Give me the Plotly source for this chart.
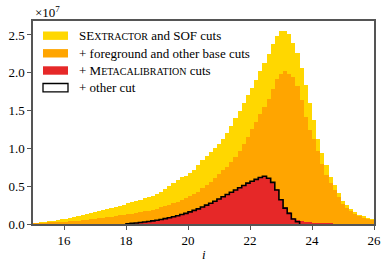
import numpy as np
import plotly.graph_objects as go

# histogram binning: bins of 2/15 mag, first edge 14.9333 (18.0 is a bin edge)
n_bins = 84
bin_w = 2.0 / 15.0
first_edge = 18.0 - 23 * bin_w

# counts per bin in units of 1e7
sof = [0.004, 0.011, 0.019, 0.027, 0.036, 0.045, 0.054, 0.063, 0.072, 0.084,
       0.097, 0.110, 0.123, 0.136, 0.149, 0.162, 0.176, 0.189, 0.202, 0.215,
       0.229, 0.243, 0.257, 0.272, 0.287, 0.303, 0.320, 0.338, 0.357, 0.377,
       0.398, 0.420, 0.460, 0.500, 0.540, 0.580, 0.620, 0.640, 0.670, 0.720,
       0.780, 0.840, 0.900, 0.950, 1.000, 1.060, 1.130, 1.210, 1.300, 1.400,
       1.500, 1.600, 1.700, 1.800, 1.910, 2.020, 2.130, 2.250, 2.380, 2.490,
       2.557, 2.557, 2.510, 2.400, 2.260, 2.060, 1.840, 1.600, 1.376, 1.130,
       0.935, 0.780, 0.626, 0.516, 0.406, 0.310, 0.250, 0.200, 0.160, 0.125,
       0.100, 0.078, 0.062, 0.050]

base = [0.002, 0.005, 0.008, 0.011, 0.014, 0.018, 0.022, 0.026, 0.031, 0.036,
        0.041, 0.046, 0.052, 0.058, 0.064, 0.071, 0.078, 0.085, 0.092, 0.099,
        0.106, 0.113, 0.120, 0.128, 0.136, 0.145, 0.155, 0.166, 0.178, 0.191,
        0.205, 0.220, 0.236, 0.253, 0.272, 0.293, 0.316, 0.340, 0.366, 0.394,
        0.424, 0.470, 0.510, 0.560, 0.610, 0.660, 0.710, 0.760, 0.820, 0.890,
        0.970, 1.060, 1.150, 1.250, 1.350, 1.450, 1.550, 1.660, 1.790, 1.920,
        1.990, 2.030, 1.990, 1.950, 1.820, 1.640, 1.420, 1.240, 1.130, 0.960,
        0.800, 0.650, 0.540, 0.450, 0.360, 0.260, 0.210, 0.170, 0.135, 0.110,
        0.085, 0.068, 0.054, 0.044]

mcal = [0.0] * 23 + [
        0.004, 0.008, 0.013, 0.019, 0.026, 0.033, 0.041,
        0.050, 0.060, 0.071, 0.083, 0.095, 0.110, 0.125, 0.140, 0.160, 0.180,
        0.200, 0.225, 0.250, 0.275, 0.300, 0.330, 0.360, 0.390, 0.420, 0.450,
        0.480, 0.510, 0.540, 0.565, 0.590, 0.615, 0.632, 0.605, 0.550, 0.460,
        0.335, 0.225, 0.155, 0.085, 0.050, 0.035, 0.025, 0.017, 0.011, 0.007,
        0.004, 0.002, 0.001, 0.0, 0.0, 0.0, 0.0, 0.0, 0.0, 0.0,
        0.0, 0.0, 0.0, 0.0]

other = [0.0] * 23 + [
        0.004, 0.008, 0.013, 0.019, 0.026, 0.033, 0.041,
        0.050, 0.060, 0.071, 0.083, 0.095, 0.110, 0.125, 0.140, 0.160, 0.180,
        0.200, 0.225, 0.250, 0.275, 0.300, 0.330, 0.360, 0.390, 0.420, 0.450,
        0.480, 0.510, 0.540, 0.565, 0.590, 0.615, 0.632, 0.605, 0.550, 0.450,
        0.320, 0.210, 0.140, 0.066, 0.030, 0.0, 0.0, 0.0, 0.0, 0.0,
        0.0, 0.0, 0.0, 0.0, 0.0, 0.0, 0.0, 0.0, 0.0, 0.0,
        0.0, 0.0, 0.0, 0.0]

labels = ["SE<span style='font-size:10px'>XTRACTOR</span> and SOF cuts",
          "+ foreground and other base cuts",
          "+ M<span style='font-size:10px'>ETACALIBRATION</span> cuts",
          "+ other cut"]
colors = ["#FFD700", "#FFA500", "#E62828", "#FFFFFF"]
x_ticks = [16, 18, 20, 22, 24, 26]
y_ticks = [0.0, 0.5, 1.0, 1.5, 2.0, 2.5]
x_title = "<i>i</i>"

edges = first_edge + bin_w * np.arange(n_bins + 1)
centers = edges[:-1] + bin_w / 2

fig = go.Figure()
for vals, col in zip([sof, base, mcal], colors[:3]):
    fig.add_trace(go.Bar(x=centers, y=vals, width=bin_w, marker=dict(color=col, line=dict(width=0)),
                         opacity=1, showlegend=False, hoverinfo="skip"))

oth = np.array(other)
nz = np.nonzero(oth)[0]
i0, i1 = nz[0], nz[-1] + 1
sx = [edges[i0]] + list(edges[i0:i1]) + [edges[i1]]
sy = [0.0] + list(oth[i0:i1]) + [0.0]
fig.add_trace(go.Scatter(x=sx, y=sy, mode="lines", line=dict(shape="hv", color="black", width=1.6),
                         showlegend=False, hoverinfo="skip"))

FONT = "'Liberation Serif', 'DejaVu Serif', serif"
axcol = "#555555"

# manual legend (matplotlib-like wide patches, no frame)
L, R, T, B = 33, 15, 21, 44
W, H = 389, 268
pw, ph = W - L - R, H - T - B
ycent = [35.7, 53.3, 70.5, 87.7]
for lab, col, yc in zip(labels, colors, ycent):
    yp = (H - B - yc) / ph
    fig.add_shape(type="rect", xref="paper", yref="paper",
                  x0=(43 - L) / pw, x1=(68 - L) / pw,
                  y0=yp - 4.2 / ph, y1=yp + 4.2 / ph,
                  fillcolor=col, line=dict(color="black" if col == "#FFFFFF" else col,
                                           width=1.3 if col == "#FFFFFF" else 0))
    fig.add_annotation(xref="paper", yref="paper", x=(77 - L) / pw, y=yp, text=lab,
                       showarrow=False, xanchor="left", yanchor="middle",
                       font=dict(family=FONT, size=13, color="black"))

fig.add_annotation(xref="paper", yref="paper", x=0, y=(H - B - 12) / ph,
                   text="×10<sup>7</sup>", showarrow=False, xanchor="left", yanchor="middle",
                   font=dict(family=FONT, size=13, color="black"))

# x-axis title placed like matplotlib's xlabel
fig.add_annotation(xref="paper", yref="paper", x=0.5, y=(H - B - 254) / ph,
                   text=x_title, showarrow=False, xanchor="center", yanchor="middle",
                   font=dict(family=FONT, size=13, color="black"))

fig.update_layout(
    width=W, height=H, margin=dict(l=L, r=R, t=T, b=B, autoexpand=False),
    barmode="overlay", bargap=0, plot_bgcolor="white", paper_bgcolor="white",
    font=dict(family=FONT, size=13, color="black"),
    xaxis=dict(range=[15, 26], tickvals=x_ticks, ticktext=[str(t) for t in x_ticks],
               showgrid=False, zeroline=False, showline=True, linecolor=axcol, linewidth=1.5,
               mirror=True, ticks="outside", ticklen=4, tickwidth=1.2, tickcolor=axcol,
               automargin=False),
    yaxis=dict(range=[0, 2.685], tickvals=y_ticks, ticktext=[f"{t:.1f}" for t in y_ticks],
               showgrid=False, zeroline=False, showline=True, linecolor=axcol, linewidth=1.5,
               mirror=True, ticks="outside", ticklen=4, tickwidth=1.2, tickcolor=axcol,
               automargin=False),
)

fig.write_html("out.html", config={"displayModeBar": False},
               post_script="document.body.style.margin='0';document.body.style.padding='0';")
